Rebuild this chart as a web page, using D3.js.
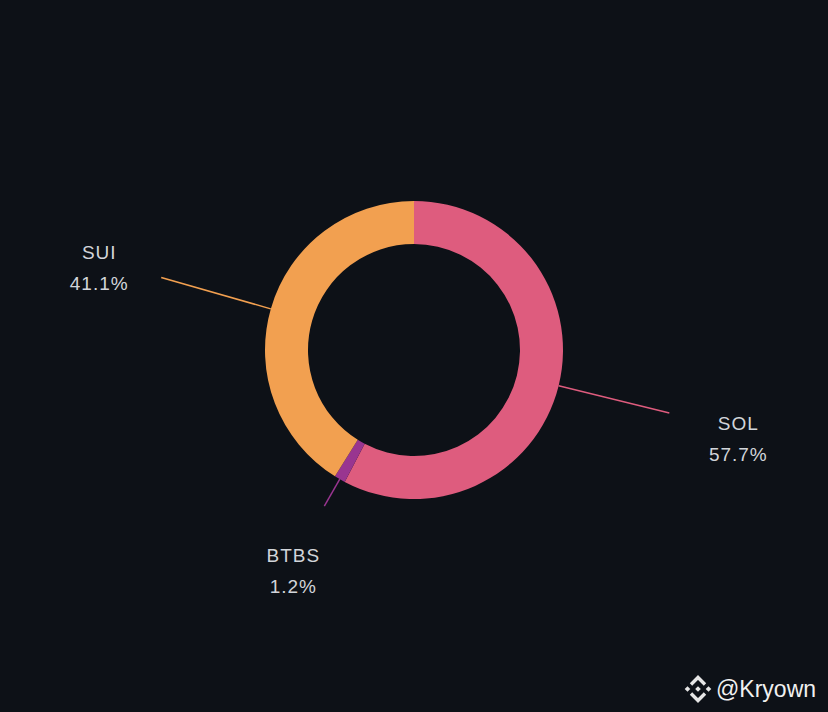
<!DOCTYPE html>
<html>
<head>
<meta charset="utf-8">
<script src="https://cdn.jsdelivr.net/npm/d3@7"></script>
<style>
  body { margin: 0; background: #0d1117; }
  svg { display: block; }
</style>
</head>
<body>
<div id="chart"></div>
<script>
// data
const labels = ["SOL", "BTBS", "SUI"];
const shares = [57.7, 1.2, 41.1];
const colors = ["#de5c7e", "#993590", "#f2a050"];

const W = 828, H = 712;
const cx = 414, cy = 350;
const outerR = 149, innerR = 106;

const svg = d3.select("#chart").append("svg")
    .attr("width", W)
    .attr("height", H);

svg.append("rect").attr("width", W).attr("height", H).attr("fill", "#0d1117");

const g = svg.append("g").attr("transform", `translate(${cx},${cy})`);

const data = labels.map((l, i) => ({ label: l, value: shares[i], color: colors[i] }));

const pie = d3.pie().sort(null).value(d => d.value);
const arcs = pie(data);

const arc = d3.arc().innerRadius(innerR).outerRadius(outerR);

g.selectAll("path.slice")
    .data(arcs)
    .enter().append("path")
    .attr("class", "slice")
    .attr("d", arc)
    .attr("fill", d => d.data.color);

// leader lines: per-label end radius and label offset (dx, dy of name line)
const leader = {
    SOL:  { r: 263, dx: 69, dy: 17 },
    BTBS: { r: 180, dx: -31, dy: 56 },
    SUI:  { r: 263, dx: -62, dy: -18 }
};

const polar = (a, r) => [Math.sin(a) * r, -Math.cos(a) * r];

arcs.forEach(d => {
    const mid = (d.startAngle + d.endAngle) / 2;
    const cfg = leader[d.data.label];
    const p0 = polar(mid, outerR);
    const p1 = polar(mid, cfg.r);
    g.append("line")
        .attr("x1", p0[0]).attr("y1", p0[1])
        .attr("x2", p1[0]).attr("y2", p1[1])
        .attr("stroke", d.data.color)
        .attr("stroke-width", 1.5);

    const t = g.append("text")
        .attr("text-anchor", "middle")
        .attr("fill", "#d2d5da")
        .style("font-family", "'Liberation Sans', Arial, sans-serif")
        .style("font-size", "19px")
        .style("letter-spacing", "1px");
    t.append("tspan")
        .attr("x", p1[0] + cfg.dx)
        .attr("y", p1[1] + cfg.dy)
        .text(d.data.label);
    t.append("tspan")
        .attr("x", p1[0] + cfg.dx)
        .attr("y", p1[1] + cfg.dy + 31)
        .text(d.data.value.toFixed(1) + "%");
});

// watermark (binance-style logo + handle)
const wm = svg.append("g").attr("transform", "translate(698,689)");
const dia = (x, y, s) => `M${x},${y - s}L${x + s},${y}L${x},${y + s}L${x - s},${y}Z`;
wm.append("path").attr("d", "M-7,-4.5L0,-11.5L7,-4.5")
    .attr("fill", "none").attr("stroke", "#e6e6e6").attr("stroke-width", 3.4);
wm.append("path").attr("d", "M-7,4.5L0,11.5L7,4.5")
    .attr("fill", "none").attr("stroke", "#e6e6e6").attr("stroke-width", 3.4);
wm.append("path").attr("d", dia(-10.5, 0, 2.8)).attr("fill", "#e6e6e6");
wm.append("path").attr("d", dia(10.5, 0, 2.8)).attr("fill", "#e6e6e6");
wm.append("path").attr("d", dia(0, 0, 2.8)).attr("fill", "#e6e6e6");
svg.append("text")
    .attr("x", 716)
    .attr("y", 697)
    .attr("fill", "#f0f0f0")
    .style("font-family", "'Liberation Sans', Arial, sans-serif")
    .style("font-size", "23px")
    .text("@Kryown");
</script>
</body>
</html>
